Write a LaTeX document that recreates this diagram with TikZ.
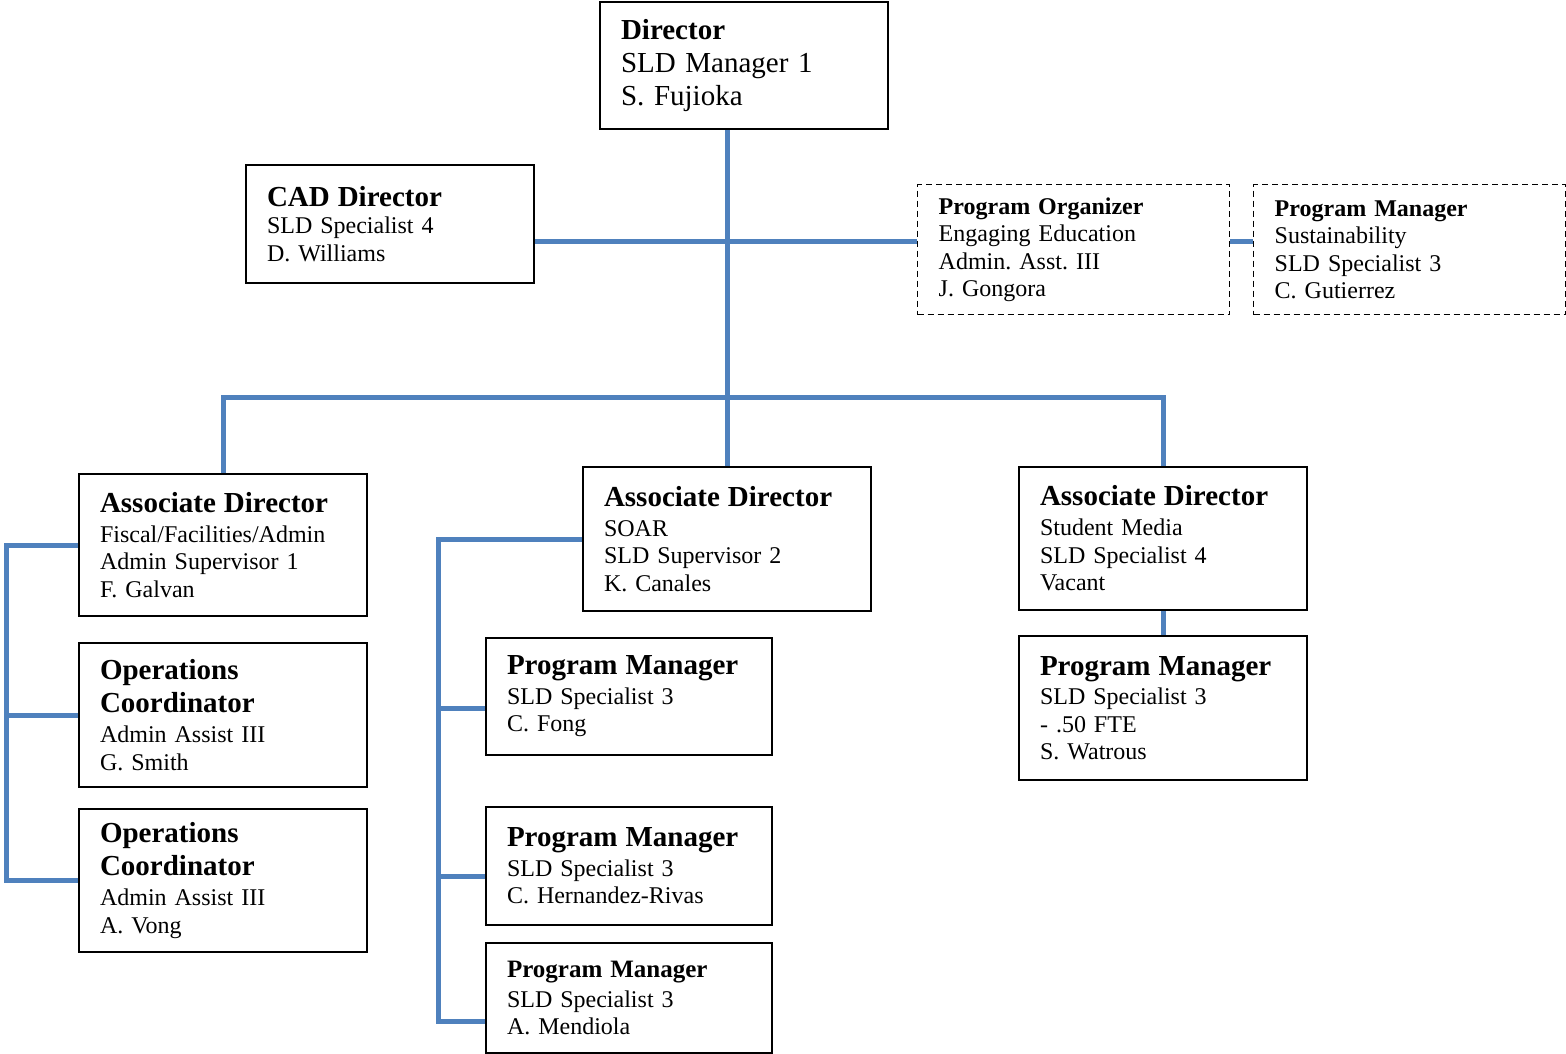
\documentclass[tikz,border=0pt]{standalone}
\usepackage{fontspec}
\setmainfont{Liberation Serif}
\usepackage{tikz}
\frenchspacing
\definecolor{linkblue}{RGB}{79,129,189}
\tikzset{
  box/.style={draw, line width=1pt, anchor=north west, align=left, text width=123pt,
    inner xsep=10.5pt, inner ysep=0pt, font=\fontsize{12}{13.75}\selectfont},
  dbox/.style={box, line width=.7pt, dash pattern=on 3pt off 2pt, text width=135pt},
  link/.style={draw=linkblue, line width=2.5pt}
}
\newcommand{\ttl}[1]{{\fontsize{14.5}{16.5}\selectfont\bfseries #1}}

\begin{document}
\begin{tikzpicture}[x=.5pt, y=-.5pt]
    \useasboundingbox (0,0) rectangle (1566,1053);
    \node[box, minimum height=63.5pt, font=\fontsize{14.5}{16.5}\selectfont] (dir) at (599,1)
        {\textbf{Director}\\SLD Manager 1\\S. Fujioka};
    \node[box, minimum height=59pt] (cad) at (245,164)
        {\ttl{CAD Director}\\SLD Specialist 4\\D. Williams};
    \node[dbox, minimum height=65pt] (po) at (917,184)
        {\textbf{Program Organizer}\\Engaging Education\\Admin. Asst. III\\J. Gongora};
    \node[dbox, minimum height=65pt] (pms) at (1253,184)
        {\textbf{Program Manager}\\Sustainability\\SLD Specialist 3\\C. Gutierrez};
    \node[box, minimum height=71pt] (leftAD) at (78,473)
        {\ttl{Associate Director}\\[1.25pt]Fiscal/Facilities/Admin\\Admin Supervisor 1\\F. Galvan};
    \node[box, minimum height=72pt] (oc1) at (78,642)
        {\ttl{Operations}\\[2.75pt]\ttl{Coordinator}\\[1.25pt]Admin Assist III\\G. Smith};
    \node[box, minimum height=71.5pt] (oc2) at (78,808)
        {\ttl{Operations}\\[2.75pt]\ttl{Coordinator}\\[1.25pt]Admin Assist III\\A. Vong};
    \node[box, minimum height=72pt] (midAD) at (582,466)
        {\ttl{Associate Director}\\[1pt]SOAR\\SLD Supervisor 2\\K. Canales};
    \node[box, text width=122pt, minimum height=58.5pt] (pm1) at (485,637)
        {\ttl{Program Manager}\\[1pt]SLD Specialist 3\\C. Fong};
    \node[box, text width=122pt, minimum height=59pt] (pm2) at (485,806)
        {\ttl{Program Manager}\\[1pt]SLD Specialist 3\\C. Hernandez-Rivas};
    \node[box, text width=122pt, minimum height=55pt] (pm3) at (485,942)
        {{\fontsize{12.5}{14}\selectfont\bfseries Program Manager}\\[1pt]SLD Specialist 3\\A. Mendiola};
    \node[box, minimum height=71.5pt] (rightAD) at (1018,466)
        {\ttl{Associate Director}\\[1.25pt]Student Media\\SLD Specialist 4\\Vacant};
    \node[box, minimum height=72pt] (rightPM) at (1018,635)
        {\ttl{Program Manager}\\[1pt]SLD Specialist 3\\- .50 FTE\\S. Watrous};

    \coordinate (hub) at (727,242);
    \coordinate (bar) at (727,397);
    \coordinate (lspine) at (6,0);
    \coordinate (mspine) at (438,0);
    \coordinate (b1) at ([yshift=-5.75pt]pm1.west);
    \coordinate (b2) at ([yshift=-5pt]pm2.west);
    \coordinate (b3) at ([yshift=-11.5pt]pm3.west);
    \draw[link] (midAD.north) -- (midAD.north |- dir.south);
    \draw[link] (cad.east |- hub) -- (po.west |- hub);
    \draw[link] (po.east |- hub) -- (pms.west |- hub);
    \draw[link] (leftAD.north) |- (bar) -| (rightAD.north);
    \draw[link] (leftAD.west) -| (lspine |- oc2.west) -- (oc2.west);
    \draw[link] (oc1.west) -- (oc1.west -| lspine);
    \draw[link] (midAD.west) -| (b3 -| mspine) -- (b3);
    \draw[link] (b1) -- (b1 -| mspine);
    \draw[link] (b2) -- (b2 -| mspine);
    \draw[link] (rightAD.south) -- (rightPM.north);
\end{tikzpicture}
\end{document}
